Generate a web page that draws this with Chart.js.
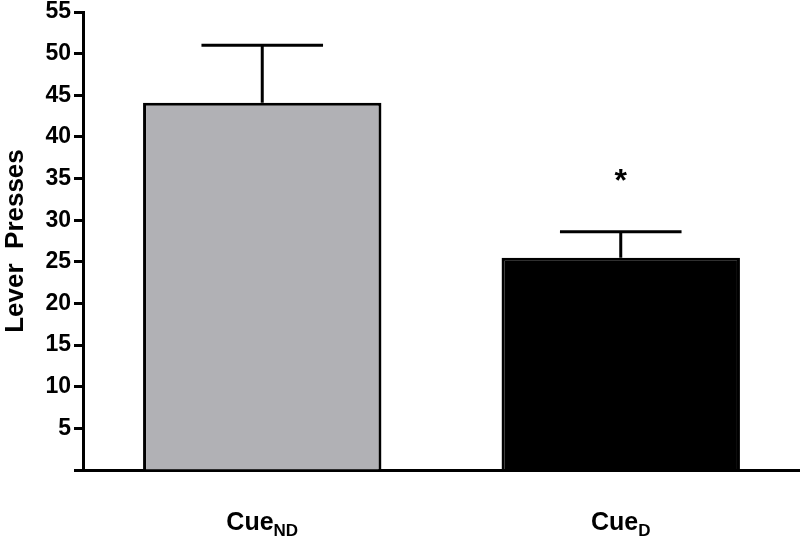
<!DOCTYPE html>
<html>
<head>
<meta charset="utf-8">
<script src="https://cdn.jsdelivr.net/npm/chart.js@4"></script>
<style>
  html, body { margin: 0; padding: 0; background: #ffffff; }
  #wrap { width: 800px; height: 539px; position: relative; }
</style>
</head>
<body>
<div id="wrap"><canvas id="chart"></canvas></div>
<script>
const categories = ["CueND", "CueD"];
const labelMain = ["Cue", "Cue"];
const labelSub = ["ND", "D"];
const meanPresses = [44.1, 25.5];
const errorTop = [51.0, 28.6];
const barColors = ["#b1b1b5", "#000000"];
const significance = ["", "*"];
const yTicks = [0, 5, 10, 15, 20, 25, 30, 35, 40, 45, 50, 55];

const FONT = "'Liberation Sans', Arial, sans-serif";

const errorBarPlugin = {
  id: "errorBars",
  afterDatasetsDraw(chart) {
    const { ctx, scales } = chart;
    const meta = chart.getDatasetMeta(0);
    ctx.save();
    ctx.strokeStyle = "#000000";
    ctx.lineWidth = 3;
    meta.data.forEach((bar, i) => {
      const x = bar.x;
      const yBase = scales.y.getPixelForValue(meanPresses[i]);
      const yTop = scales.y.getPixelForValue(errorTop[i]);
      const half = bar.width * 0.255;
      ctx.beginPath();
      ctx.moveTo(x, yBase);
      ctx.lineTo(x, yTop);
      ctx.moveTo(x - half, yTop);
      ctx.lineTo(x + half, yTop);
      ctx.stroke();
      if (significance[i]) {
        ctx.fillStyle = "#000000";
        ctx.font = "bold 32px " + FONT;
        ctx.textAlign = "center";
        ctx.textBaseline = "middle";
        ctx.fillText(significance[i], x, scales.y.getPixelForValue(34.6));
      }
    });
    ctx.restore();
  }
};

const subLabelPlugin = {
  id: "subLabels",
  afterDraw(chart) {
    const { ctx, scales } = chart;
    ctx.save();
    ctx.fillStyle = "#000000";
    ctx.textBaseline = "alphabetic";
    ctx.textAlign = "left";
    categories.forEach((c, i) => {
      const cx = scales.x.getPixelForValue(i);
      ctx.font = "bold 25px " + FONT;
      const wMain = ctx.measureText(labelMain[i]).width;
      ctx.font = "bold 17px " + FONT;
      const wSub = ctx.measureText(labelSub[i]).width;
      const start = cx - (wMain + wSub) / 2;
      ctx.font = "bold 25px " + FONT;
      ctx.fillText(labelMain[i], start, 530);
      ctx.font = "bold 17px " + FONT;
      ctx.fillText(labelSub[i], start + wMain, 536);
    });
    ctx.restore();
  }
};

new Chart(document.getElementById("chart"), {
  type: "bar",
  data: {
    labels: categories,
    datasets: [
      {
        label: "Lever Presses",
        data: meanPresses,
        backgroundColor: barColors,
        borderColor: "#000000",
        borderWidth: 3,
        borderSkipped: "bottom",
        categoryPercentage: 1,
        barPercentage: 0.665
      }
    ]
  },
  options: {
    responsive: true,
    maintainAspectRatio: false,
    animation: false,
    layout: { padding: { top: 12, right: 0, left: 0, bottom: 0 } },
    plugins: {
      legend: { display: false },
      tooltip: { enabled: false }
    },
    scales: {
      x: {
        afterFit: (scale) => { scale.height = 69; },
        grid: { display: false },
        border: { display: true, color: "#000000", width: 3 },
        ticks: { callback: () => "" }
      },
      y: {
        min: 0,
        max: 55,
        afterFit: (scale) => { scale.width = 83; scale.paddingTop = 0; },
        afterBuildTicks: (scale) => { scale.ticks = yTicks.map((v) => ({ value: v })); },
        border: { display: true, color: "#000000", width: 3 },
        grid: {
          drawOnChartArea: false,
          drawTicks: true,
          tickLength: 9,
          tickWidth: 3,
          tickColor: "#000000"
        },
        ticks: {
          color: "#000000",
          padding: 3,
          font: { family: FONT, size: 23, weight: "bold", lineHeight: 1 },
          callback: (v) => (v === 0 ? "" : v)
        },
        title: {
          display: true,
          text: "Lever  Presses",
          color: "#000000",
          padding: { top: 0, bottom: 2 },
          font: { family: FONT, size: 26, weight: "bold" }
        }
      }
    }
  },
  plugins: [errorBarPlugin, subLabelPlugin]
});
</script>
</body>
</html>
